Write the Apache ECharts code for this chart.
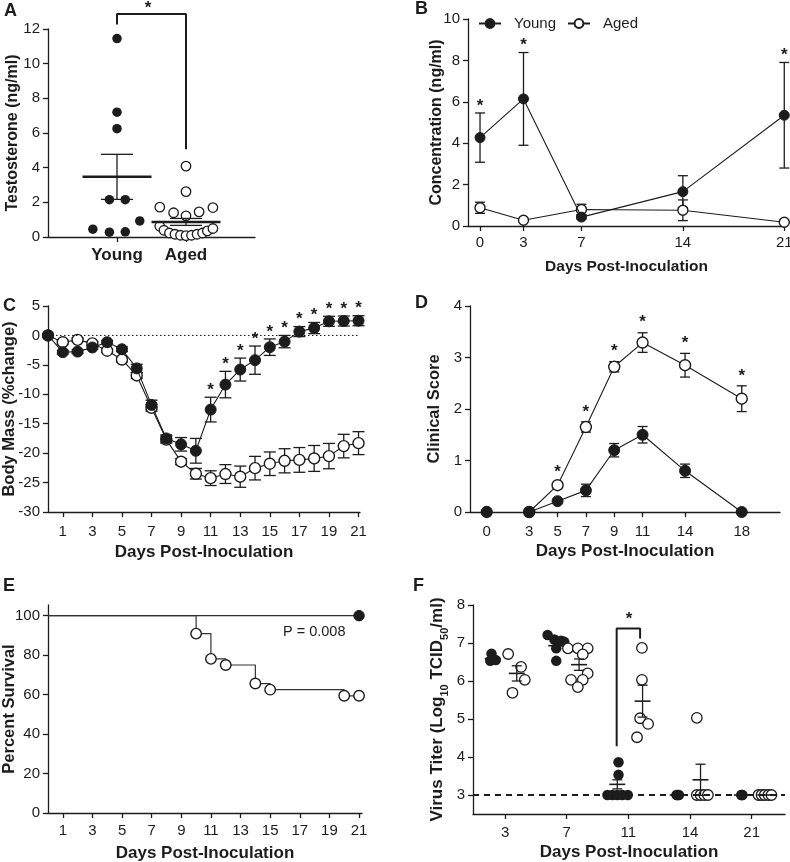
<!DOCTYPE html>
<html><head><meta charset="utf-8">
<script src="https://cdn.jsdelivr.net/npm/echarts@6/dist/echarts.min.js"></script>
<style>html,body{margin:0;padding:0;background:#fff}#c{width:790px;height:862px}</style>
</head><body><div id="c"></div>
<script>
// ---------- DATA ----------
// Panel A: testosterone
const aCategories = ['Young', 'Aged'];
const aYoung = [11.45, 7.2, 6.25, 2.15, 2.15, 0.45, 0.28, 0.3, 0.93];
const aYoungJitter = [0, 0, 0, -0.11, 0.12, -0.35, -0.11, 0.12, 0.33];
const aAged = [4.09, 2.62, 1.72, 1.4, 1.22, 1.45, 1.7, 0.62, 0.39, 0.23, 0.16, 0.1, 0.08, 0.1, 0.16, 0.23, 0.35, 0.49];
const aAgedJitter = [0, 0, -0.38, -0.18, 0, 0.19, 0.39, -0.38, -0.32, -0.24, -0.16, -0.08, 0, 0.08, 0.16, 0.24, 0.31, 0.39];
const aMeans = [3.47, 0.87];
const aSems = [1.3, 0.2];
const aBracket = [[0, 12.26], [0, 12.86], [1, 12.86], [1, 5.06]];
const aStar = [0.45, 13.2];

// Panel B: concentration
const bDays = [0, 3, 7, 14, 21];
const bYoung = [4.27, 6.14, 0.43, 1.66, 5.35];
const bYoungSem = [1.19, 2.24, 0.1, 0.77, 2.55];
const bAged = [0.88, 0.28, 0.8, 0.76, 0.18];
const bAgedSem = [0.27, 0.05, 0.25, 0.5, 0.05];
const bStarDays = [0, 3, 21];

// Panel C: body mass
const cDays = [0,1,2,3,4,5,6,7,8,9,10,11,12,13,14,15,16,17,18,19,20,21];
const cYoung = [0, -2.85, -2.75, -2.05, -1.15, -2.35, -5.6, -11.8, -17.5, -18.5, -19.6, -12.6, -8.35, -5.8, -4.2, -2.0, -1.05, 0.65, 1.25, 2.4, 2.45, 2.5];
const cYoungSem = [0, 0.3, 0.3, 0.3, 0.3, 0.4, 0.7, 0.8, 0.6, 1.15, 2.1, 2.1, 2.25, 1.95, 2.4, 1.4, 1.05, 0.85, 0.95, 0.85, 0.85, 0.85];
const cAged = [0, -1.15, -0.75, -1.35, -2.6, -4.1, -6.8, -12.3, -17.7, -21.45, -23.5, -24.25, -23.55, -24.0, -22.55, -21.8, -21.3, -21.15, -20.9, -20.5, -18.8, -18.3];
const cAgedSem = [0, 0.3, 0.3, 0.3, 0.3, 0.4, 0.5, 0.6, 0.6, 0.5, 0.9, 1.25, 1.6, 1.8, 2.0, 2.0, 2.05, 2.1, 2.2, 2.15, 2.0, 1.95];
const cStarDays = [11, 12, 13, 14, 15, 16, 17, 18, 19, 20, 21];
const oddDayTicks = [1, 3, 5, 7, 9, 11, 13, 15, 17, 19, 21];

// Panel D: clinical score
const dDays = [0, 3, 5, 7, 9, 11, 14, 18];
const dYoung = [0, 0, 0.21, 0.42, 1.2, 1.5, 0.8, 0];
const dYoungSem = [0, 0, 0.03, 0.12, 0.13, 0.16, 0.13, 0];
const dAged = [0, 0, 0.52, 1.65, 2.82, 3.29, 2.85, 2.2];
const dAgedSem = [0, 0, 0.05, 0.1, 0.1, 0.19, 0.23, 0.25];
const dStarDays = [5, 7, 9, 11, 14, 18];

// Panel E: survival
const eYoungDays = [0, 21];
const eYoungSurvival = [100, 100];
const eAgedDays = [0, 10, 11, 12, 14, 15, 20, 21];
const eAgedSurvival = [100, 90.9, 78.1, 75, 65.6, 62.5, 59.4, 59.4];
const ePText = 'P = 0.008';

// Panel F: virus titer
const fCategories = ['3', '7', '11', '14', '21'];
const fYoungValues = [[6.72, 6.53, 6.55], [7.21, 7.09, 7.03, 6.86, 7.06, 6.53], [3.86, 3.53, 3, 3, 3, 3, 3], [3, 3, 3], [3, 3, 3]];
const fYoungJitter = [[-0.22, -0.24, -0.15], [-0.31, -0.2, -0.04, -0.17, -0.09, -0.17], [-0.16, -0.16, -0.34, -0.26, -0.18, -0.1, -0.01], [-0.22, -0.2, -0.18], [-0.17, -0.16, -0.15]];
const fAgedValues = [[6.71, 6.37, 6.03, 5.69], [6.86, 6.86, 6.86, 6.7, 6.2, 6.03, 6.03, 5.84], [6.87, 6.03, 5.02, 4.87, 4.52], [5.03, 3, 3, 3, 3], [3, 3, 3, 3, 3]];
const fAgedJitter = [[0.05, 0.26, 0.32, 0.12], [0.02, 0.18, 0.34, 0.26, 0.34, 0.07, 0.26, 0.18], [0.22, 0.22, 0.19, 0.32, 0.14], [0.11, 0.11, 0.17, 0.23, 0.29], [0.11, 0.16, 0.21, 0.27, 0.32]];
const fYoungMean = [6.59, 6.93, 3.28, 3.0, 3.0];
const fYoungSem = [0.05, 0.08, 0.12, 0, 0];
const fYoungMeanX = [-0.2, -0.17, -0.18, -0.2, -0.16];
const fAgedMean = [6.2, 6.43, 5.47, 3.4, 3.0];
const fAgedSem = [0.2, 0.15, 0.42, 0.41, 0];
const fAgedMeanX = [0.19, 0.2, 0.23, 0.17, 0.22];
const fLimit = 3;
const fBracketDay = 2;
const fBracket = [[-0.19, 4.28], [-0.19, 7.38], [0.19, 7.38], [0.19, 7.12]];
const fStar = [0.01, 7.62];

// ---------- STYLE HELPERS ----------
const FONT = '"Liberation Sans", Arial, Helvetica, sans-serif';
const INK = '#1c1c1c';

function merge(a, b) {
  const out = Array.isArray(a) ? a.slice() : Object.assign({}, a);
  for (const k in b) {
    if (b[k] && typeof b[k] === 'object' && !Array.isArray(b[k]) && a[k] && typeof a[k] === 'object' && !Array.isArray(a[k])) out[k] = merge(a[k], b[k]);
    else out[k] = b[k];
  }
  return out;
}
function axis(extra) {
  return merge({
    type: 'value',
    axisLine: { show: true, onZero: false, lineStyle: { color: INK, width: 1.3 } },
    axisTick: { show: true, length: 5, lineStyle: { color: INK, width: 1.3 } },
    axisLabel: { color: INK, fontSize: 15, fontFamily: FONT, margin: 8 },
    splitLine: { show: false },
    nameLocation: 'middle',
    nameMoveOverlap: false,
    nameTextStyle: { color: INK, fontSize: 16.5, fontWeight: 'bold', fontFamily: FONT }
  }, extra);
}
const pairs = (xs, ys) => xs.map((x, i) => [x, ys[i]]);
const triples = (xs, ys, es) => xs.map((x, i) => [x, ys[i], es[i]]);

function errorBars(gi, rows, capHalf, z) {
  return {
    type: 'custom', xAxisIndex: gi, yAxisIndex: gi, data: rows, z: z || 2, silent: true, animation: false,
    renderItem(params, api) {
      const x = api.value(0), y = api.value(1), e = api.value(2);
      if (!e) return { type: 'group', children: [] };
      const a = api.coord([x, y + e]), b = api.coord([x, y - e]);
      const st = { stroke: INK, lineWidth: 1.3 };
      return { type: 'group', children: [
        { type: 'line', shape: { x1: a[0], y1: a[1], x2: b[0], y2: b[1] }, style: st },
        { type: 'line', shape: { x1: a[0] - capHalf, y1: a[1], x2: a[0] + capHalf, y2: a[1] }, style: st },
        { type: 'line', shape: { x1: b[0] - capHalf, y1: b[1], x2: b[0] + capHalf, y2: b[1] }, style: st }
      ] };
    }
  };
}
function meanBars(gi, rows, halfMean, capHalf, meanWidth) {
  return {
    type: 'custom', xAxisIndex: gi, yAxisIndex: gi, data: rows, z: 6, silent: true, animation: false,
    renderItem(params, api) {
      const x = api.value(0), m = api.value(1), e = api.value(2);
      const c = api.coord([x, m]);
      const st = { stroke: INK, lineWidth: 1.3 };
      const ch = [{ type: 'line', shape: { x1: c[0] - halfMean, y1: c[1], x2: c[0] + halfMean, y2: c[1] }, style: { stroke: INK, lineWidth: meanWidth } }];
      if (e) {
        const a = api.coord([x, m + e]), b = api.coord([x, m - e]);
        ch.push({ type: 'line', shape: { x1: a[0], y1: a[1], x2: b[0], y2: b[1] }, style: st });
        ch.push({ type: 'line', shape: { x1: a[0] - capHalf, y1: a[1], x2: a[0] + capHalf, y2: a[1] }, style: st });
        ch.push({ type: 'line', shape: { x1: b[0] - capHalf, y1: b[1], x2: b[0] + capHalf, y2: b[1] }, style: st });
      }
      return { type: 'group', children: ch };
    }
  };
}
function stars(gi, rows, gap) {
  return {
    type: 'custom', xAxisIndex: gi, yAxisIndex: gi, data: rows, z: 7, silent: true, animation: false,
    renderItem(params, api) {
      const p = api.coord([api.value(0), api.value(1)]);
      return { type: 'text', x: p[0], y: p[1] - gap, style: { text: '*', fill: INK, fontSize: 17, fontWeight: 'bold', fontFamily: FONT, align: 'center', verticalAlign: 'middle' } };
    }
  };
}
function line(name, gi, data, filled, size, extra) {
  return merge({
    name, type: 'line', xAxisIndex: gi, yAxisIndex: gi, data, symbol: 'circle', symbolSize: size, showSymbol: true,
    lineStyle: { color: INK, width: 1.1 },
    itemStyle: filled ? { color: INK, borderColor: INK, borderWidth: 1, opacity: 1 } : { color: '#fff', borderColor: INK, borderWidth: 1.4, opacity: 1 },
    z: filled ? 4 : 3, silent: true, animation: false, emphasis: { disabled: true }
  }, extra || {});
}
function dots(name, gi, data, filled, size, z) {
  return {
    name, type: 'scatter', xAxisIndex: gi, yAxisIndex: gi, data, symbol: 'circle', symbolSize: size,
    itemStyle: filled ? { color: INK, opacity: 1 } : { color: '#fff', borderColor: INK, borderWidth: 1.3, opacity: 1 },
    z: z || 4, silent: true, animation: false, emphasis: { disabled: true }
  };
}
function bracket(gi, pts) {
  return { type: 'line', xAxisIndex: gi, yAxisIndex: gi, data: pts, symbol: 'none', clip: false,
    lineStyle: { color: INK, width: 2 }, z: 5, silent: true, animation: false };
}
const starRows = (days, allDays, vals, sems) => days.map(d => { const i = allDays.indexOf(d); return [d, vals[i] + sems[i]]; });

// ---------- LAYOUT ----------
const grids = [
  { left: 48, top: 29, width: 207, height: 208 },
  { left: 468, top: 19, width: 317, height: 207 },
  { left: 48, top: 306, width: 312, height: 206 },
  { left: 470, top: 306, width: 310, height: 206 },
  { left: 48, top: 605, width: 314, height: 208 },
  { left: 473, top: 605, width: 312, height: 209 }
].map(g => Object.assign({ containLabel: false, outerBoundsMode: 'none' }, g));

const daysTitle = 'Days Post-Inoculation';
const xTitle17 = { fontSize: 17 };
const xAxes = [
  axis({ gridIndex: 0, min: -1, max: 2, axisTick: { customValues: [0, 1] },
    axisLabel: { customValues: [0, 1], formatter: v => aCategories[Math.round(v)], fontSize: 17, fontWeight: 'bold', margin: 10 } }),
  axis({ gridIndex: 1, min: -0.83, max: 21.05, axisTick: { customValues: bDays }, axisLabel: { customValues: bDays, margin: 9 }, name: daysTitle, nameGap: 33, nameTextStyle: { fontSize: 15.5 } }),
  axis({ gridIndex: 2, min: 0, max: 21.1, axisTick: { customValues: oddDayTicks }, axisLabel: { customValues: oddDayTicks, margin: 12 }, name: daysTitle, nameGap: 32, nameTextStyle: xTitle17 }),
  axis({ gridIndex: 3, min: -1.18, max: 20.7, axisTick: { customValues: dDays }, axisLabel: { customValues: dDays, margin: 12 }, name: daysTitle, nameGap: 31, nameTextStyle: xTitle17 }),
  axis({ gridIndex: 4, min: 0, max: 21.2, axisTick: { customValues: oddDayTicks }, axisLabel: { customValues: oddDayTicks, margin: 10 }, name: daysTitle, nameGap: 32, nameTextStyle: xTitle17 }),
  axis({ gridIndex: 5, min: -0.52, max: 4.54, axisTick: { customValues: [0, 1, 2, 3, 4] },
    axisLabel: { customValues: [0, 1, 2, 3, 4], formatter: v => fCategories[Math.round(v)], margin: 11 }, name: daysTitle, nameGap: 30, nameTextStyle: xTitle17 })
];
const yAxes = [
  axis({ gridIndex: 0, min: 0, max: 12, interval: 2, name: 'Testosterone (ng/ml)', nameRotate: 90, nameGap: 27, nameTextStyle: { fontSize: 16 } }),
  axis({ gridIndex: 1, min: 0, max: 10, interval: 2, name: 'Concentration (ng/ml)', nameRotate: 90, nameGap: 23, nameTextStyle: { fontSize: 16 } }),
  axis({ gridIndex: 2, min: -30, max: 5, interval: 5, name: 'Body Mass (%change)', nameRotate: 90, nameGap: 30 }),
  axis({ gridIndex: 3, min: 0, max: 4, interval: 1, name: 'Clinical Score', nameRotate: 90, nameGap: 27 }),
  axis({ gridIndex: 4, min: 0, max: 105.4, axisTick: { customValues: [0, 20, 40, 60, 80, 100] }, axisLabel: { customValues: [0, 20, 40, 60, 80, 100] }, name: 'Percent Survival', nameRotate: 90, nameGap: 30 }),
  axis({ gridIndex: 5, min: 2.5, max: 8, axisTick: { customValues: [3, 4, 5, 6, 7, 8] }, axisLabel: { customValues: [3, 4, 5, 6, 7, 8] },
    name: '{m|Virus Titer (Log}{s|10}{m| TCID}{s|50}{m|/ml)}', nameRotate: 90, nameGap: 23,
    nameTextStyle: { rich: {
      m: { fontSize: 17, fontWeight: 'bold', fontFamily: FONT, color: INK, lineHeight: 17, verticalAlign: 'top' },
      s: { fontSize: 11, fontWeight: 'bold', fontFamily: FONT, color: INK, lineHeight: 21, verticalAlign: 'bottom' } } } })
];

// ---------- SERIES ----------
const series = [];
// B (first so legend icons come from here)
series.push(errorBars(1, triples(bDays, bAged, bAgedSem), 5));
series.push(errorBars(1, triples(bDays, bYoung, bYoungSem), 5));
series.push(line('Aged', 1, pairs(bDays, bAged), false, 10));
series.push(line('Young', 1, pairs(bDays, bYoung), true, 10));
series.push(stars(1, starRows(bStarDays, bDays, bYoung, bYoungSem), 7));

// A
series.push(dots('A-Young', 0, aYoung.map((v, i) => [0 + aYoungJitter[i], v]), true, 9.5));
series.push(dots('A-Aged', 0, aAged.map((v, i) => [1 + aAgedJitter[i], v]), false, 9.5));
series.push(meanBars(0, triples([0, 1], aMeans, aSems), 34.5, 16, 2.5));
series.push(bracket(0, aBracket));
series.push(stars(0, [aStar], 0));

// C
series.push(errorBars(2, triples(cDays, cAged, cAgedSem), 6));
series.push(errorBars(2, triples(cDays, cYoung, cYoungSem), 6));
series.push(line('C-Aged', 2, pairs(cDays, cAged), false, 11));
series.push(line('C-Young', 2, pairs(cDays, cYoung), true, 11, {
  markLine: { silent: true, symbol: ['none', 'none'], label: { show: false }, animation: false,
    lineStyle: { type: [1.5, 2.5], color: INK, width: 1 }, data: [{ yAxis: 0 }] }
}));
series.push(stars(2, starRows(cStarDays, cDays, cYoung, cYoungSem), 7));

// D
series.push(errorBars(3, triples(dDays, dAged, dAgedSem), 5));
series.push(errorBars(3, triples(dDays, dYoung, dYoungSem), 5));
series.push(line('D-Aged', 3, pairs(dDays.slice(1), dAged.slice(1)), false, 11));
series.push(line('D-Young', 3, pairs(dDays.slice(1), dYoung.slice(1)), true, 11));
series.push(dots('D-Aged0', 3, pairs(dDays.slice(0, 1), dAged.slice(0, 1)), false, 11, 3));
series.push(dots('D-Young0', 3, pairs(dDays.slice(0, 1), dYoung.slice(0, 1)), true, 11, 4));
series.push(stars(3, starRows(dStarDays, dDays, dAged, dAgedSem), 10));

// E
const stepItems = (days, vals) => days.map((d, i) => i === 0 ? { value: [d, vals[i]], symbol: 'none' } : { value: [d, vals[i]] });
series.push(line('E-Aged', 4, stepItems(eAgedDays, eAgedSurvival), false, 10.5, { step: 'end', lineStyle: { color: '#333', width: 1.2 } }));
series.push(line('E-Young', 4, stepItems(eYoungDays, eYoungSurvival), true, 10.5, { lineStyle: { color: '#333', width: 1.2 } }));

// F
const flat = (vals, jit) => vals.flatMap((arr, d) => arr.map((v, j) => [d + jit[d][j], v]));
series.push({ type: 'line', xAxisIndex: 5, yAxisIndex: 5, data: [], silent: true,
  markLine: { silent: true, symbol: ['none', 'none'], label: { show: false }, animation: false,
    lineStyle: { type: [6, 5], color: INK, width: 2 }, data: [{ yAxis: fLimit }] }, z: 2 });
series.push(dots('F-Young', 5, flat(fYoungValues, fYoungJitter), true, 10.5));
series.push(dots('F-Aged', 5, flat(fAgedValues, fAgedJitter), false, 10.5));
series.push(meanBars(5, fYoungMean.map((m, i) => [i + fYoungMeanX[i], m, fYoungSem[i]]), 8, 5, 1.6));
series.push(meanBars(5, fAgedMean.map((m, i) => [i + fAgedMeanX[i], m, fAgedSem[i]]), 8, 5, 1.6));
series.push(bracket(5, fBracket.map(p => [fBracketDay + p[0], p[1]])));
series.push(stars(5, [[fBracketDay + fStar[0], fStar[1]]], 0));

// ---------- GRAPHICS (panel letters, p value) ----------
const letter = (t, left, top) => ({ type: 'text', left, top, silent: true,
  style: { text: t, fontSize: 18, fontWeight: 'bold', fontFamily: FONT, fill: INK } });

const option = {
  backgroundColor: '#fff',
  animation: false,
  grid: grids,
  xAxis: xAxes,
  yAxis: yAxes,
  legend: { data: ['Young', 'Aged'], left: 478, top: 16, itemWidth: 22, itemHeight: 11, itemGap: 11, padding: 0,
    selectedMode: false, textStyle: { color: INK, fontSize: 15, fontFamily: FONT, padding: [0, 0, 0, 8] } },
  graphic: [
    letter('A', 4, 2), letter('B', 415, 0), letter('C', 3, 297), letter('D', 415, 294), letter('E', 3, 577), letter('F', 413, 577),
    { type: 'text', left: 283, top: 624, silent: true, style: { text: ePText, fontSize: 14.5, fontFamily: FONT, fill: INK } }
  ],
  series
};
const chart = echarts.init(document.getElementById('c'), null, { renderer: 'canvas', width: 790, height: 862 });
chart.setOption(option);
</script></body></html>
